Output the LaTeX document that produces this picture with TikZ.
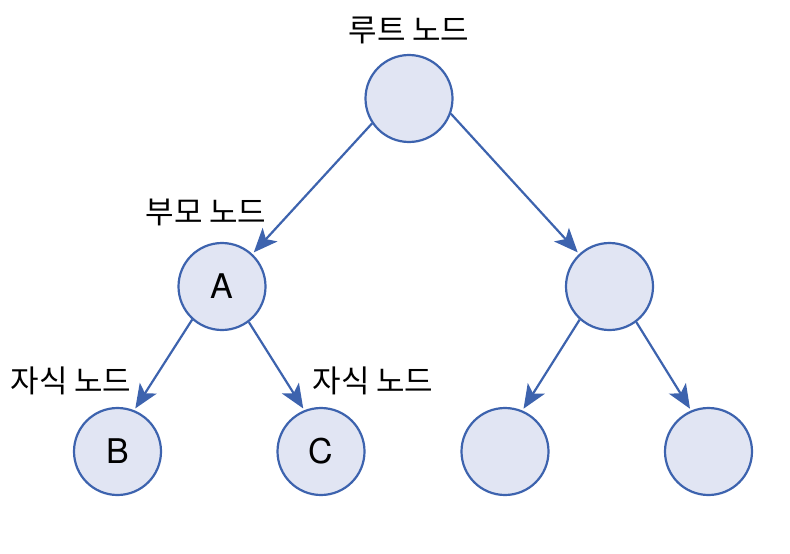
\documentclass[tikz,border=0pt]{standalone}
\usepackage{fontspec}
\setmainfont{TeX Gyre Heros}
\newfontfamily\kofont{Noto Sans CJK KR}
\usetikzlibrary{arrows.meta}

\definecolor{nodeblue}{HTML}{3D63AE}
\definecolor{nodefill}{HTML}{E1E5F3}

\begin{document}
\begin{tikzpicture}[
    x=1pt, y=-1pt,
    every node/.style={inner sep=0pt},
    tree node/.style={circle, draw=nodeblue, fill=nodefill, line width=2.2pt, minimum size=87pt, font=\fontsize{34}{34}\selectfont},
    role label/.style={font=\kofont\fontsize{31}{31}\selectfont},
    link/.style={-{Stealth[length=24pt, width=20pt, inset=6pt]}, draw=nodeblue, line width=2.2pt, shorten >=2pt}
  ]
    \useasboundingbox (0,0) rectangle (790,554);

    % one root, two children, four leaves
    \node[tree node] (root) at (409,98.5) {};
    \node[tree node] (nodeA) at (222,286.5) {A};
    \node[tree node] (nodeRight) at (609.5,286.5) {};
    \node[tree node] (nodeB) at (117.5,451.5) {B};
    \node[tree node] (nodeC) at (321,451.5) {C};
    \node[tree node] (leftLeaf) at (505,451.5) {};
    \node[tree node] (rightLeaf) at (708.5,451.5) {};

    \node[role label] (rootLabel) at (409,30) {루트 노드};
    \node[role label] (parentLabel) at (206,212) {부모 노드};
    \node[role label] (childLabelB) at (71,381) {자식 노드};
    \node[role label] (childLabelC) at (373,381) {자식 노드};

    \draw[link] (root.214) -- (nodeA.47);
    \draw[link] (root.340) -- (nodeRight.133);
    \draw[link] (nodeA.228) -- (nodeB.68);
    \draw[link] (nodeA.307) -- (nodeC.112);
    \draw[link] (nodeRight.228) -- (leftLeaf.67);
    \draw[link] (nodeRight.307) -- (rightLeaf.113);
  \end{tikzpicture}
\end{document}
